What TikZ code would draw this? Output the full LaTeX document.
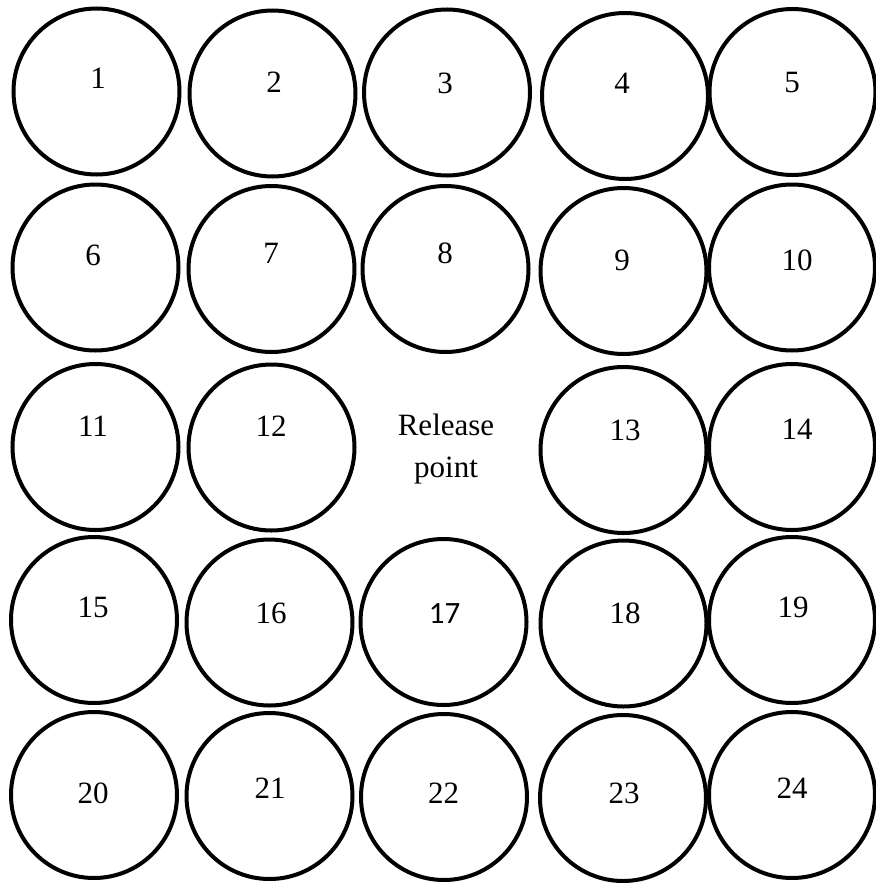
\documentclass[tikz,border=0pt]{standalone}
\usepackage{fontspec}
\setmainfont{Liberation Serif}
\newfontfamily\calfont{Carlito}
\begin{document}
\begin{tikzpicture}[x=1pt,y=-1pt,
  ring/.style={draw=black,line width=4pt,circle,minimum size=166pt,inner sep=0pt},
  lbl/.style={inner sep=0pt,font=\fontsize{31}{42}\selectfont}]
\useasboundingbox (0,0) rectangle (875,883);
% circles
\node[ring] (c1)  at (96.5,91.5) {};
\node[ring] (c2)  at (272.5,93.5) {};
\node[ring] (c3)  at (447,92.5) {};
\node[ring] (c4)  at (625,96) {};
\node[ring] (c5)  at (792.5,92) {};
\node[ring] (c6)  at (95.5,267.5) {};
\node[ring] (c7)  at (271.5,269) {};
\node[ring] (c8)  at (445.5,269) {};
\node[ring] (c9)  at (623.5,271) {};
\node[ring] (c10) at (792,267.5) {};
\node[ring] (c11) at (95.5,447) {};
\node[ring] (c12) at (271.5,447.5) {};
\node[ring] (c13) at (623.5,450) {};
\node[ring] (c14) at (792,447) {};
\node[ring] (c15) at (94,620) {};
\node[ring] (c16) at (269.5,622.5) {};
\node[ring] (c17) at (443.5,622) {};
\node[ring] (c18) at (623.5,623.5) {};
\node[ring] (c19) at (792,620) {};
\node[ring] (c20) at (94,795) {};
\node[ring] (c21) at (269.5,796) {};
\node[ring] (c22) at (444,797) {};
\node[ring] (c23) at (623,798) {};
\node[ring] (c24) at (792,795) {};
% labels
\node[lbl] (t1)  at (98,78) {1};
\node[lbl] (t2)  at (274,82) {2};
\node[lbl] (t3)  at (445,83) {3};
\node[lbl] (t4)  at (622,83) {4};
\node[lbl] (t5)  at (792,83) {5};
\node[lbl] (t6)  at (93,255) {6};
\node[lbl] (t7)  at (271,253) {7};
\node[lbl] (t8)  at (445,253) {8};
\node[lbl] (t9)  at (622,260) {9};
\node[lbl] (t10) at (797,260) {10};
\node[lbl] (t11) at (93,426) {11};
\node[lbl] (t12) at (271,426) {12};
\node[lbl,align=center] (rp) at (446,449) {Release\\point};
\node[lbl] (t13) at (625,430) {13};
\node[lbl] (t14) at (797,429) {14};
\node[lbl] (t15) at (93,607) {15};
\node[lbl] (t16) at (271,613) {16};
\node[lbl,font=\calfont\fontsize{31}{38}\selectfont] (t17) at (444.5,614) {17};
\node[lbl] (t18) at (625,613) {18};
\node[lbl] (t19) at (793,607) {19};
\node[lbl] (t20) at (93,793) {20};
\node[lbl] (t21) at (270,788) {21};
\node[lbl] (t22) at (443.5,793.5) {22};
\node[lbl] (t23) at (624,793) {23};
\node[lbl] (t24) at (792,788) {24};
\end{tikzpicture}
\end{document}
